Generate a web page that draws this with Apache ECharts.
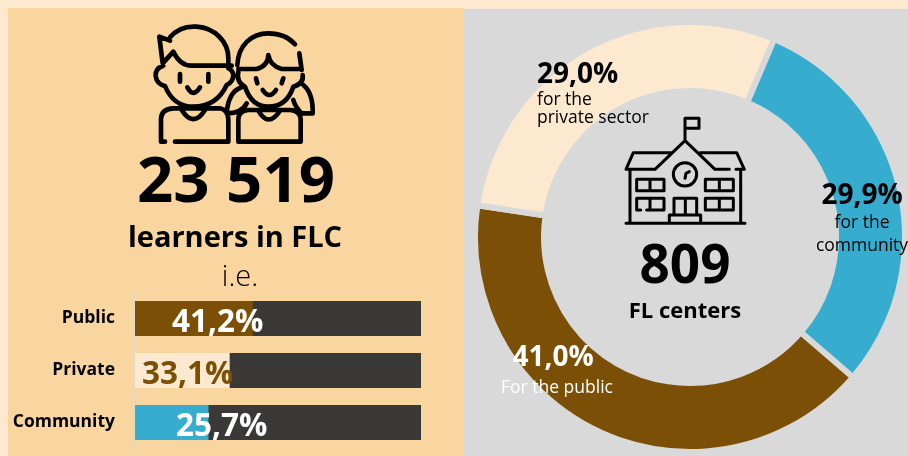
<!DOCTYPE html>
<html>
<head>
<meta charset="utf-8">
<style>
html,body{margin:0;padding:0;background:#FCE9CF}
#chart{width:908px;height:456px}
</style>
<script src="https://cdn.jsdelivr.net/npm/echarts@6/dist/echarts.min.js"></script>
</head>
<body>
<div id="chart"></div>
<script>
var barCategories = ['Public', 'Private', 'Community'];
var barValues = [41.2, 33.1, 25.7];
var centerNames = ['for the community', 'For the public', 'for the private sector'];
var centerShares = [29.9, 41.0, 29.0];
var learnersTotal = '23 519';
var centersTotal = '809';

var BROWN = '#7B5006', CREAM = '#FCE9CF', BLUE = '#36ADCF', DARK = '#3B3938';
var GREY = '#D9D9D9', SAND = '#F9D6A0';
var FONT = '"Open Sans", sans-serif';

// icon outlines, traced at 3x and scaled down
var kidsPath =
    'M510 112C530 88 560 78 590 80C645 84 685 125 685 175L685 195' +
    'M510 122L478 110L488 190L520 155Q540 197 575 197L695 197' +
    'M490 197Q465 205 467 228Q470 252 495 258Q520 320 580 320Q650 320 680 255Q700 245 700 225Q698 210 685 205' +
    'M540 222L540 245M625 222L625 245M562 262Q580 295 600 262' +
    'M495 425L483 425L483 355Q485 327 520 325L660 325Q685 330 685 360L685 425L525 425' +
    'M545 330Q580 385 615 330' +
    'M712 195C715 135 755 100 805 100C840 100 865 110 885 133M898 160L905 210' +
    'M715 207L770 207Q805 197 805 165Q810 197 845 207L905 207' +
    'M715 215Q708 245 735 260Q755 320 805 320Q860 320 880 260Q912 250 908 225' +
    'M768 235L772 250M850 235L845 250M788 270Q808 300 828 270' +
    'M725 262Q685 275 680 340Q725 340 740 310' +
    'M910 255Q940 280 938 340L905 340Q885 320 880 300' +
    'M715 425L715 360Q715 332 745 330L870 330Q902 332 902 360L902 425L715 425' +
    'M775 332Q805 385 840 332';

var schoolPath =
    'M255 120L255 55L297 55L297 85L255 85' +
    'M165 208L255 122L345 208L388 208' +
    'M165 208L78 208L100 158L212 158' +
    'M300 158L410 158L433 208L408 208' +
    'M90 208L90 370M422 208L422 370M78 370L435 370' +
    'M220 223A35 35 0 1 0 290 223A35 35 0 1 0 220 223' +
    'M255 235L258 220L268 215' +
    'M110 238L192 238L192 272L110 272ZM150 238L150 272' +
    'M122 330L110 330L110 295L192 295L192 330L140 330M150 295L150 330' +
    'M316 238L400 238L400 272L316 272ZM358 238L358 272' +
    'M316 295L400 295L400 330L316 330ZM358 295L358 330' +
    'M222 345L222 295L290 295L290 345M256 295L256 345' +
    'M208 370L208 345L302 345L302 370';

echarts.graphic.registerShape('kidsIcon', echarts.graphic.extendPath(kidsPath, {}));
echarts.graphic.registerShape('schoolIcon', echarts.graphic.extendPath(schoolPath, {}));

function pct(v) {
    return v.toFixed(1).replace('.', ',') + '%';
}

// y is the text's vertical middle
function label(str, x, y, size, weight, color, align) {
    return {
        type: 'text', x: x, y: y, z: 20,
        style: {
            text: str, fill: color, font: weight + ' ' + size + 'px ' + FONT,
            align: align || 'center', verticalAlign: 'middle'
        }
    };
}

function icon(type, x, y, width) {
    return {
        type: type, x: x, y: y, scaleX: 1 / 3, scaleY: 1 / 3, z: 20,
        style: {fill: 'none', stroke: '#000', lineWidth: width, lineCap: 'round', lineJoin: 'round'}
    };
}

var myChart = echarts.init(document.getElementById('chart'));

var option = {
    backgroundColor: CREAM,
    animation: false,
    graphic: {
        elements: [
            {type: 'rect', z: 0, shape: {x: 8, y: 8, width: 456, height: 448}, style: {fill: SAND}},
            {type: 'rect', z: 0, shape: {x: 464, y: 9, width: 444, height: 447}, style: {fill: GREY}},
            icon('kidsIcon', 0, 0, 14),
            icon('schoolIcon', 600, 100, 9),
            label(learnersTotal, 236, 184, 63.5, 'bold', '#000'),
            label('learners in FLC', 235, 239, 29, 'bold', '#000'),
            label('i.e.', 240, 278, 29, 300, '#000'),
            label(centersTotal, 685, 268, 53, 'bold', '#000'),
            label('FL centers', 685, 312, 22, 'bold', '#000'),
            label(pct(centerShares[2]), 537, 75.5, 28, 'bold', '#000', 'left'),
            label('for the', 537, 100, 17.5, 400, '#000', 'left'),
            label('private sector', 537, 118, 17.5, 400, '#000', 'left'),
            label(pct(centerShares[0]), 862, 196, 28, 'bold', '#000'),
            label('for the', 862, 223, 17.5, 400, '#000'),
            label('community', 862, 246, 17.5, 400, '#000'),
            label(pct(centerShares[1]), 553, 358, 28, 'bold', '#fff'),
            label(centerNames[1], 557, 388, 17.5, 400, '#fff')
        ]
    },
    grid: {left: 135, top: 292.5, width: 286, height: 156},
    xAxis: {type: 'value', min: 0, max: 100, show: false},
    yAxis: {
        type: 'category',
        inverse: true,
        data: barCategories,
        axisTick: {show: false},
        axisLine: {lineStyle: {color: GREY, width: 1.5}},
        axisLabel: {color: '#000', fontFamily: FONT, fontWeight: 'bold', fontSize: 17.5, margin: 20, padding: [6, 0, 0, 0]}
    },
    series: [
        {
            type: 'bar',
            barWidth: 35,
            showBackground: true,
            backgroundStyle: {color: DARK},
            data: barValues.map(function (v, i) {
                return {
                    value: v,
                    itemStyle: {color: [BROWN, CREAM, BLUE][i]},
                    label: {
                        show: true,
                        position: 'insideLeft',
                        distance: 0,
                        offset: [[37, 7, 41][i], 5],
                        formatter: pct(v),
                        color: i === 1 ? BROWN : '#fff',
                        fontFamily: FONT,
                        fontWeight: 'bold',
                        fontSize: 31.5
                    }
                };
            })
        },
        {
            type: 'pie',
            center: [690, 237],
            radius: [146, 215],
            startAngle: 67,
            clockwise: true,
            silent: true,
            label: {show: false},
            labelLine: {show: false},
            itemStyle: {borderColor: GREY, borderWidth: 6},
            data: centerNames.map(function (name, i) {
                return {
                    name: name,
                    value: centerShares[i],
                    itemStyle: {color: [BLUE, BROWN, CREAM][i]}
                };
            })
        }
    ]
};

myChart.setOption(option);
</script>
</body>
</html>
